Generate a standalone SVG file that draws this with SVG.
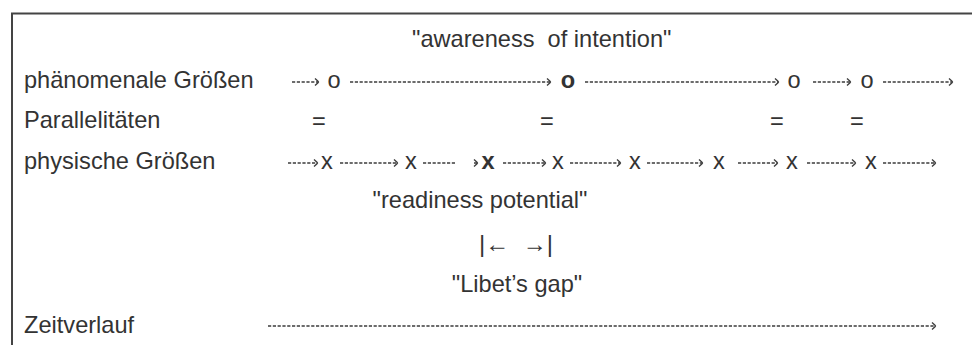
<svg xmlns="http://www.w3.org/2000/svg" width="972" height="345" viewBox="0 0 972 345">
<defs>
<style>
text{font-family:"Liberation Sans","DejaVu Sans",Arial,sans-serif;font-size:23.6px;fill:#333;white-space:pre}
.c{text-anchor:middle}
.b{font-weight:bold}
.sym{font-size:24px}
.dash{fill:none;stroke:#3c3c3c;stroke-width:1.6;stroke-dasharray:3.2 1.6;marker-end:url(#chev)}
</style>
<marker id="chev" markerUnits="userSpaceOnUse" markerWidth="10" markerHeight="10" viewBox="-5 -5 10 10" refX="0" refY="0" orient="auto">
<path d="M-3,-3.5 Q0.5,-0.5 0.5,0 Q0.5,0.5 -3,3.5" fill="none" stroke="#3c3c3c" stroke-width="1.4"/>
</marker>
</defs>
<rect width="972" height="345" fill="#fff"/>
<g id="frame">
<path d="M12,345 V13.5 H972" fill="none" stroke="#444" stroke-width="2"/>
</g>
<g id="labels">
<text x="412" y="47">"awareness  of intention"</text>
<text x="24" y="88">phänomenale Größen</text>
<text x="24" y="128">Parallelitäten</text>
<text x="24" y="169">physische Größen</text>
<text class="c" x="480" y="208">"readiness potential"</text>
<text class="c sym" x="516" y="252">|←  →|</text>
<text class="c" x="517" y="292">"Libet’s gap"</text>
<text x="24" y="333">Zeitverlauf</text>
</g>
<g id="connectors">
<path class="dash" d="M292,82 H318"/>
<path class="dash" d="M350,82 H550"/>
<path class="dash" d="M585,82 H778"/>
<path class="dash" d="M813,82 H850"/>
<path class="dash" d="M883,82 H952"/>
<path class="dash" d="M288,163 H317"/>
<path class="dash" d="M340,163 H397"/>
<path class="dash" d="M423,163 H455 M474,163 H477"/>
<path class="dash" d="M503,163 H545"/>
<path class="dash" d="M570,163 H620"/>
<path class="dash" d="M647,163 H702"/>
<path class="dash" d="M738,163 H777"/>
<path class="dash" d="M807,163 H855"/>
<path class="dash" d="M883,163 H935"/>
<path class="dash" d="M268,326 H935"/>
</g>
<g id="phen-1"><text class="c" x="334" y="88">o</text></g>
<g id="phen-2"><text class="c b" x="568" y="88">o</text></g>
<g id="phen-3"><text class="c" x="794" y="88">o</text></g>
<g id="phen-4"><text class="c" x="867" y="88">o</text></g>
<g id="par-1"><text class="c" x="319" y="129">=</text></g>
<g id="par-2"><text class="c" x="547" y="129">=</text></g>
<g id="par-3"><text class="c" x="777" y="129">=</text></g>
<g id="par-4"><text class="c" x="857" y="129">=</text></g>
<g id="phys-1"><text class="c" x="327" y="169">x</text></g>
<g id="phys-2"><text class="c" x="411" y="169">x</text></g>
<g id="phys-3"><text class="c b" x="488" y="169">x</text></g>
<g id="phys-4"><text class="c" x="558" y="169">x</text></g>
<g id="phys-5"><text class="c" x="635" y="169">x</text></g>
<g id="phys-6"><text class="c" x="719" y="169">x</text></g>
<g id="phys-7"><text class="c" x="792" y="169">x</text></g>
<g id="phys-8"><text class="c" x="871" y="169">x</text></g>
</svg>
